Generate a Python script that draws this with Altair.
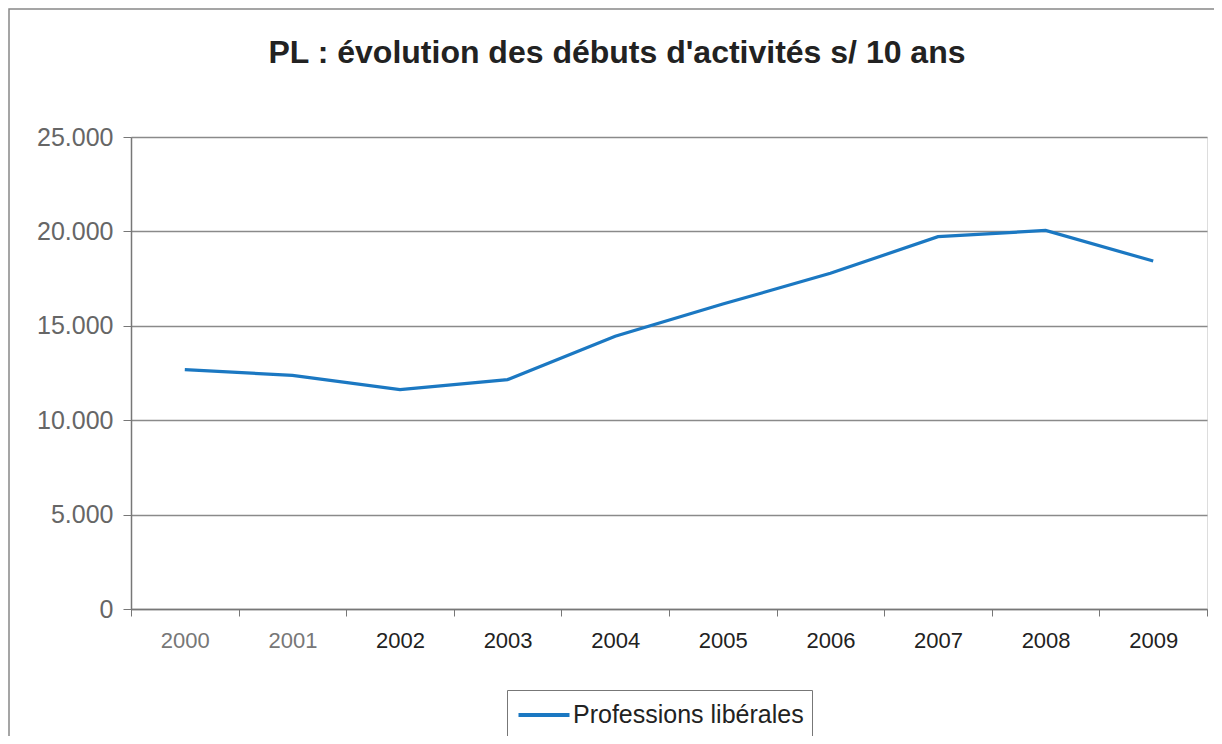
import altair as alt
import pandas as pd

years = ["2000", "2001", "2002", "2003", "2004", "2005", "2006", "2007", "2008", "2009"]
values = [12680, 12370, 11620, 12150, 14450, 16150, 17780, 19720, 20050, 18430]
series = ["Professions libérales"] * len(years)
y_ticks = [0, 5000, 10000, 15000, 20000, 25000]

df = pd.DataFrame({"annee": years, "valeur": values, "serie": series})

FONT = "Liberation Sans"

line = alt.Chart(df).mark_line(strokeWidth=3.2).encode(
    x=alt.X(
        "annee:N",
        sort=years,
        scale=alt.Scale(paddingInner=0, paddingOuter=0),
        axis=alt.Axis(
            title=None,
            labelAngle=0,
            tickBand="extent",
            ticks=True,
            tickSize=7,
            tickColor="#777",
            domainColor="#777",
            domainWidth=1.5,
            labelFontSize=22,
            labelFont=FONT,
            labelColor=alt.expr("datum.value == '2000' || datum.value == '2001' ? '#777777' : '#222222'"),
            labelPadding=14,
            grid=False,
        ),
    ),
    y=alt.Y(
        "valeur:Q",
        scale=alt.Scale(domain=[0, 25000], nice=False),
        axis=alt.Axis(
            title=None,
            values=y_ticks,
            labelExpr="replace(format(datum.value, ','), ',', '.')",
            tickSize=8,
            tickColor="#777",
            domainColor="#777",
            domainWidth=1.5,
            labelFontSize=25,
            labelFont=FONT,
            labelColor="#666666",
            labelPadding=10,
            grid=True,
            gridColor="#8a8a8a",
            gridWidth=1.5,
        ),
    ),
    color=alt.Color(
        "serie:N",
        scale=alt.Scale(range=["#1b78c2"]),
        legend=alt.Legend(
            title=None,
            orient="none",
            legendX=376,
            legendY=553,
            symbolType="M-1.7,0H1.7",
            symbolSize=900,
            symbolStrokeWidth=4,
            symbolOffset=12,
            labelFontSize=25,
            labelFont=FONT,
            labelColor="#222222",
            labelOffset=12,
            labelLimit=0,
            strokeColor="#777777",
            padding=8,
        ),
    ),
)

frame = alt.Chart(pd.DataFrame({"f": [0]})).mark_rect(
    fillOpacity=0, fill="white", stroke="#888888", strokeWidth=1.5
).encode(
    x=alt.value(-122), x2=alt.value(1095), y=alt.value(-128), y2=alt.value(640)
)

chart = alt.layer(frame, line).properties(
    width=1076,
    height=472,
    title=alt.TitleParams(
        "PL : évolution des débuts d'activités s/ 10 ans",
        font=FONT,
        fontSize=32,
        fontWeight="bold",
        color="#222222",
        anchor="middle",
        dx=-52,
        offset=-62,
    ),
    autosize=alt.AutoSizeParams(type="none"),
    padding={"left": 123, "top": 129, "right": 7, "bottom": 127},
).configure_view(
    stroke="#888888", strokeWidth=1.5
).configure(background="white")

chart.save("out.html", embed_options={"renderer": "svg", "actions": False})
